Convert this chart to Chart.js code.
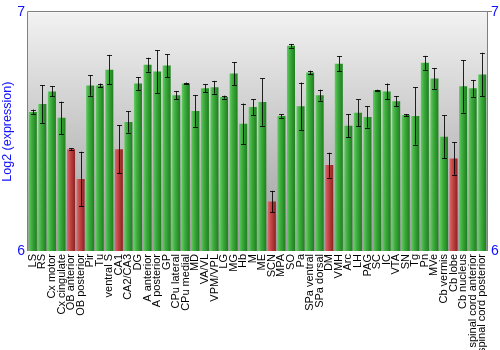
<!DOCTYPE html>
<html>
<head>
<meta charset="utf-8">
<script src="https://cdn.jsdelivr.net/npm/chart.js@4"></script>
<style>
  html, body { margin: 0; padding: 0; background: #fff; }
  #wrap { width: 500px; height: 350px; }
</style>
</head>
<body>
<div id="wrap"><canvas id="myChart"></canvas></div>
<script>
const regions = ['LS', 'RS', 'Cx motor', 'Cx cingulate', 'OB anterior', 'OB posterior', 'Pir', 'Tu',
    'ventral S', 'CA1', 'CA2/CA3', 'DG', 'A anterior', 'A posterior', 'GP', 'CPu lateral', 'CPu medial',
    'MD', 'VA/VL', 'VPM/VPL', 'LG', 'MG', 'Hb', 'M', 'ME', 'SCN', 'MPA', 'SO', 'Pa', 'SPa ventral',
    'SPa dorsal', 'DM', 'VMH', 'Arc', 'LH', 'PAG', 'SC', 'IC', 'VTA', 'SN', 'Tg', 'Pn', 'MVe',
    'Cb vermis', 'Cb lobe', 'Cb nucleus', 'spinal cord anterior', 'spinal cord posterior'];

const expression = [6.583, 6.616, 6.669, 6.558, 6.426, 6.302, 6.694, 6.694,
    6.760, 6.426, 6.541, 6.702, 6.781, 6.752, 6.777, 6.653, 6.702,
    6.587, 6.682, 6.686, 6.645, 6.744, 6.533, 6.603, 6.624, 6.207, 6.566, 6.860, 6.607, 6.748,
    6.653, 6.360, 6.785, 6.525, 6.579, 6.562, 6.674, 6.669, 6.628, 6.570, 6.566, 6.789, 6.723,
    6.479, 6.388, 6.690, 6.682, 6.740];

const stdErr = [0.010, 0.079, 0.021, 0.068, 0.004, 0.114, 0.043, 0.008,
    0.062, 0.101, 0.045, 0.027, 0.029, 0.089, 0.048, 0.017, 0.004,
    0.066, 0.017, 0.027, 0.006, 0.048, 0.085, 0.033, 0.099, 0.045, 0.008, 0.008, 0.099, 0.008,
    0.023, 0.052, 0.031, 0.048, 0.056, 0.045, 0.002, 0.033, 0.021, 0.004, 0.120, 0.029, 0.043,
    0.091, 0.068, 0.110, 0.035, 0.091];

// regions shown in red
const lowRegions = ['OB anterior', 'OB posterior', 'CA1', 'SCN', 'DM', 'Cb lobe'];

const yTicks = [6, 7];

const blue = '#1010ff';

function barFill(ctx) {
    const chart = ctx.chart;
    const x = chart.scales.x;
    if (!x || !chart.chartArea) return '#3aa83a';
    const cx = x.getPixelForValue(ctx.dataIndex);
    const half = 4;
    const g = chart.ctx.createLinearGradient(cx - half, 0, cx + half, 0);
    if (lowRegions.includes(regions[ctx.dataIndex])) {
        g.addColorStop(0, '#d86a6a');
        g.addColorStop(0.35, '#c84848');
        g.addColorStop(1, '#8c2222');
    } else {
        g.addColorStop(0, '#62cc62');
        g.addColorStop(0.35, '#3fae3f');
        g.addColorStop(1, '#1e7e1e');
    }
    return g;
}

const backdrop = {
    id: 'backdrop',
    beforeDatasetsDraw(chart) {
        const { ctx, chartArea: a } = chart;
        const g = ctx.createLinearGradient(0, a.top, 0, a.bottom);
        g.addColorStop(0, '#f2f2f2');
        g.addColorStop(1, '#9c9c9c');
        ctx.save();
        ctx.fillStyle = g;
        ctx.fillRect(a.left, a.top, a.right - a.left, a.bottom - a.top);
        ctx.restore();
    },
    afterDatasetsDraw(chart) {
        const { ctx, chartArea: a } = chart;
        const x = chart.scales.x, y = chart.scales.y;
        ctx.save();
        // error bars
        ctx.strokeStyle = 'rgba(0,0,0,0.85)';
        ctx.lineWidth = 1;
        expression.forEach((v, i) => {
            const cx = Math.round(x.getPixelForValue(i)) + 0.5;
            const y1 = y.getPixelForValue(v + stdErr[i]);
            const y2 = y.getPixelForValue(v - stdErr[i]);
            ctx.beginPath();
            ctx.moveTo(cx, y1); ctx.lineTo(cx, y2);
            ctx.moveTo(cx - 2.5, Math.round(y1) + 0.5); ctx.lineTo(cx + 2.5, Math.round(y1) + 0.5);
            ctx.moveTo(cx - 2.5, Math.round(y2) + 0.5); ctx.lineTo(cx + 2.5, Math.round(y2) + 0.5);
            ctx.stroke();
        });
        // frame
        ctx.strokeStyle = '#808080';
        ctx.beginPath();
        ctx.moveTo(Math.round(a.left) - 0.5, a.bottom);
        ctx.lineTo(Math.round(a.left) - 0.5, Math.round(a.top) - 0.5);
        ctx.lineTo(Math.round(a.right) + 5, Math.round(a.top) - 0.5);
        ctx.moveTo(Math.round(a.right) + 0.5, Math.round(a.top) - 0.5);
        ctx.lineTo(Math.round(a.right) + 0.5, a.bottom);
        ctx.stroke();
        ctx.restore();
    }
};

const ctx = document.getElementById('myChart').getContext('2d');
const myChart = new Chart(ctx, {
    type: 'bar',
    data: {
        labels: regions,
        datasets: [{
            label: 'Log2 (expression)',
            data: expression,
            base: 6,
            backgroundColor: barFill,
            borderWidth: 0,
            barPercentage: 0.84,
            categoryPercentage: 1
        }]
    },
    options: {
        responsive: true,
        maintainAspectRatio: false,
        animation: false,
        layout: { padding: { top: 9, left: 0, right: 0, bottom: 0 } },
        plugins: {
            legend: { display: false },
            tooltip: { enabled: false }
        },
        scales: {
            x: {
                grid: { display: false, drawTicks: false },
                border: { display: false },
                ticks: {
                    autoSkip: false,
                    minRotation: 90,
                    maxRotation: 90,
                    padding: 3,
                    color: '#000',
                    font: { family: 'Liberation Sans', size: 11 }
                },
                afterFit(scale) { scale.height = 99; }
            },
            y: {
                min: 6,
                max: 7,
                position: 'left',
                grid: { display: false, drawTicks: false },
                border: { display: false },
                afterBuildTicks(scale) { scale.ticks = yTicks.map(v => ({ value: v })); },
                ticks: { color: blue, padding: 3, font: { family: 'Liberation Sans', size: 14 } },
                title: {
                    display: true,
                    text: 'Log2 (expression)',
                    color: blue,
                    padding: 0,
                    font: { family: 'Liberation Sans', size: 12.5 }
                },
                afterFit(scale) { scale.width = 28; }
            },
            y2: {
                min: 6,
                max: 7,
                position: 'right',
                grid: { display: false, drawTicks: false },
                border: { display: false },
                afterBuildTicks(scale) { scale.ticks = yTicks.map(v => ({ value: v })); },
                ticks: { color: blue, padding: 4, font: { family: 'Liberation Sans', size: 14 } },
                afterFit(scale) { scale.width = 13; }
            }
        }
    },
    plugins: [backdrop]
});
</script>
</body>
</html>
